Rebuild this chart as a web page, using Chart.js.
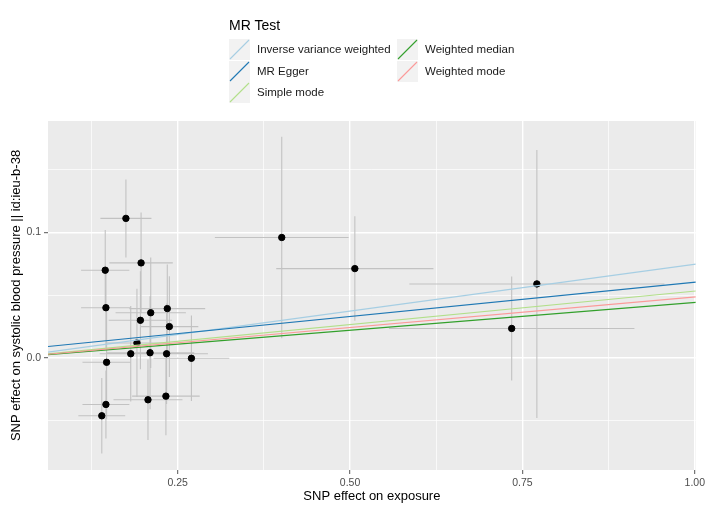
<!DOCTYPE html>
<html>
<head>
<meta charset="utf-8">
<script src="https://cdn.jsdelivr.net/npm/chart.js@4"></script>
<style>
  html, body { margin: 0; padding: 0; background: #fff; }
  #wrap { position: relative; width: 708px; height: 513px; font-family: "Liberation Sans", Arial, sans-serif; }
  #legend { position: absolute; left: 229px; top: 16px; color: #1a1a1a; }
  #legend .title { font-size: 14px; line-height: 18px; color: #000; }
  #legend .item { position: absolute; height: 21px; white-space: nowrap; }
  #legend .key { position: absolute; left: 0; top: 0; width: 21px; height: 21px; background: #f2f2f2; }
  #legend .label { position: absolute; left: 28px; top: 0; font-size: 11.5px; line-height: 21px; }
</style>
</head>
<body>
<div id="wrap">
  <canvas id="chart" width="708" height="513"></canvas>
  <div id="legend"></div>
</div>
<script>
// SNP estimates (exposure on x, outcome on y) and their standard errors
const exposureBeta = [0.175, 0.197, 0.145, 0.146, 0.235, 0.211, 0.196, 0.238, 0.191, 0.182, 0.210,
                      0.234, 0.270, 0.147, 0.207, 0.233, 0.146, 0.140, 0.401, 0.507, 0.771, 0.7345];
const outcomeBeta  = [0.111, 0.0756, 0.0698, 0.040, 0.0393, 0.036, 0.030, 0.025, 0.012, 0.0034, 0.0042,
                      0.0034, -0.0002, -0.0034, -0.0332, -0.0303, -0.0369, -0.0459, 0.0958, 0.0711, 0.0589, 0.0235];
const exposureSe   = [0.037, 0.046, 0.035, 0.036, 0.055, 0.051, 0.046, 0.042, 0.045, 0.045, 0.064,
                      0.060, 0.055, 0.035, 0.050, 0.049, 0.034, 0.034, 0.097, 0.114, 0.185, 0.178];
const outcomeSe    = [0.031, 0.040, 0.032, 0.032, 0.035, 0.044, 0.039, 0.040, 0.043, 0.038, 0.045,
                      0.040, 0.034, 0.045, 0.032, 0.031, 0.027, 0.030, 0.080, 0.0415, 0.1065, 0.0413];

// MR methods: lines y = intercept + slope * x
const methods    = ["Inverse variance weighted", "MR Egger", "Simple mode", "Weighted median", "Weighted mode"];
const slopes     = [0.0745, 0.0544, 0.0532, 0.0442, 0.0485];
const intercepts = [0, 0.0058, 0, 0, 0];
const colours    = ["#a6cee3", "#1f78b4", "#b2df8a", "#33a02c", "#fb9a99"];

// axes
const xRange = [0.062, 1.0015];
const yRange = [-0.089, 0.1884];
const xMajor = [0.25, 0.5, 0.75, 1.0];
const xLabels = ["0.25", "0.50", "0.75", "1.00"];
const xMinor = [0.125, 0.375, 0.625, 0.875];
const yMajor = [0.0, 0.1];
const yLabels = ["0.0", "0.1"];
const yMinor = [-0.05, 0.05, 0.15];

const FONT = '"Liberation Sans", Arial, sans-serif';

const points = exposureBeta.map((x, i) => ({ x, y: outcomeBeta[i] }));

const vBars = [];
const hBars = [];
exposureBeta.forEach((x, i) => {
  const y = outcomeBeta[i];
  vBars.push({ x, y: y - outcomeSe[i] }, { x, y: y + outcomeSe[i] }, { x, y: null });
  hBars.push({ x: x - exposureSe[i], y }, { x: x + exposureSe[i], y }, { x, y: null });
});

const lineSets = methods.map((m, i) => ({
  type: 'line',
  label: m,
  data: xRange.map(x => ({ x, y: intercepts[i] + slopes[i] * x })),
  borderColor: colours[i],
  borderWidth: 1.2,
  pointRadius: 0,
  order: 5 - i
}));

const panelBg = {
  id: 'panelBg',
  beforeDraw(chart) {
    const { ctx, chartArea: a } = chart;
    ctx.save();
    ctx.fillStyle = '#ebebeb';
    ctx.fillRect(a.left, a.top, a.right - a.left, a.bottom - a.top);
    ctx.restore();
  }
};

function axisOpts(range, major, labels, minor, title, isX) {
  return {
    type: 'linear',
    min: range[0],
    max: range[1],
    afterBuildTicks: axis => {
      axis.ticks = major.concat(minor).sort((a, b) => a - b).map(v => ({ value: v }));
    },
    afterFit: scale => {
      if (isX) scale.height = 43; else scale.width = 48;
    },
    border: { display: false },
    grid: {
      color: '#ffffff',
      lineWidth: c => major.includes(c.tick.value) ? 1.4 : 0.7,
      tickColor: c => major.includes(c.tick.value) ? '#555555' : 'rgba(0,0,0,0)',
      tickWidth: 1,
      tickLength: 4
    },
    ticks: {
      autoSkip: false,
      maxRotation: 0,
      padding: 3,
      color: '#4d4d4d',
      font: { family: FONT, size: 10.5 },
      callback: v => {
        const k = major.indexOf(v);
        return k >= 0 ? labels[k] : '';
      }
    },
    title: {
      display: true,
      text: title,
      color: '#000',
      font: { family: FONT, size: 13 },
      padding: isX ? { top: 0, bottom: 9 } : { top: 9, bottom: 0 }
    }
  };
}

new Chart(document.getElementById('chart'), {
  type: 'scatter',
  data: {
    datasets: [
      ...lineSets,
      {
        type: 'scatter',
        data: points,
        backgroundColor: '#000',
        borderColor: '#000',
        pointRadius: 3.2,
        order: 10
      },
      {
        type: 'line',
        data: vBars,
        borderColor: '#c2c2c2',
        borderWidth: 1.1,
        pointRadius: 0,
        spanGaps: false,
        order: 20
      },
      {
        type: 'line',
        data: hBars,
        borderColor: '#c2c2c2',
        borderWidth: 1.1,
        pointRadius: 0,
        spanGaps: false,
        order: 20
      }
    ]
  },
  options: {
    responsive: false,
    animation: false,
    devicePixelRatio: 1,
    layout: { padding: { top: 121, right: 11, left: 0, bottom: 0 } },
    plugins: { legend: { display: false }, tooltip: { enabled: false } },
    scales: {
      x: axisOpts(xRange, xMajor, xLabels, xMinor, 'SNP effect on exposure', true),
      y: axisOpts(yRange, yMajor, yLabels, yMinor, 'SNP effect on systolic blood pressure || id:ieu-b-38', false)
    }
  },
  plugins: [panelBg]
});

// legend: two columns, filled top to bottom
const legend = document.getElementById('legend');
legend.innerHTML = '<div class="title">MR Test</div>';
methods.forEach((m, i) => {
  const col = Math.floor(i / 3), row = i % 3;
  const item = document.createElement('div');
  item.className = 'item';
  item.style.left = (col * 168) + 'px';
  item.style.top = (23 + row * 21.5) + 'px';
  item.innerHTML =
    '<div class="key"><svg width="21" height="21"><line x1="1" y1="20" x2="20" y2="1" stroke="' +
    colours[i] + '" stroke-width="1.1"/></svg></div><div class="label">' + m + '</div>';
  legend.appendChild(item);
});
</script>
</body>
</html>
